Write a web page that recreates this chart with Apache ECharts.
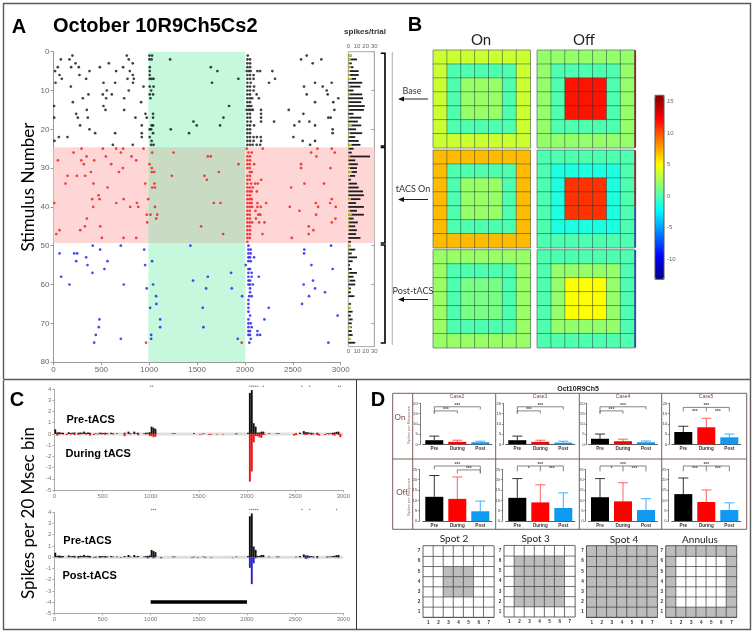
<!DOCTYPE html>
<html><head><meta charset="utf-8">
<style>html,body{margin:0;padding:0;background:#fff}#c{width:753px;height:634px;filter:blur(.4px)}</style>
<script src="https://cdn.jsdelivr.net/npm/echarts@6/dist/echarts.min.js"></script>
</head><body><div id="c"></div>
<script>
// ---------- Panel A data: spike times by trial ----------
const rasterBase = [
[198,766,1002,1030,2029,2645],[77,167,786,1002,1025,1218,2025,2053,2586,2798],[230,578,828,2025,2053,2707],
[45,184,264,484,727,1005,1643,2025,2053],[17,376,654,797,1005,1712,2018,2040,2060,2130,2158,2286],
[63,271,828,1005,2025,2053,2090],[87,341,773,839,1005,1025,1045,1931,2025,2053,2090,2314],
[21,522,644,830,1656,2025,2060,2252,2732,2906],[181,940,1005,1045,2025,2053,2095,2617,2812],
[557,786,1020,2025,2053,2090,2854],[365,515,609,1005,1040,2025,2053,2122,2645,2864],
[306,550,738,1012,2025,2053,2075,2145,2975],[202,915,2025,2053,2732,2923],[7,522,1834,2025,2045,2066],
[348,543,738,2018,2040,2060,2082,2168,2457,2934],[237,960,1040,2025,2053,2168,2610],
[7,254,358,856,974,1040,1775,2025,2053,2168,2871,2895],[1462,2025,2060,2168,2304,2568,2673],
[278,922,1025,1040,1496,1740,2025,2053,2095,2516,2732],[376,1005,1020,1225,2025,2053,2916],
[435,644,922,1040,1416,2025,2053,2916],[56,146,922,1005,2025,2053,2090,2125,2165,2506],
[10,1025,2025,2053,2090,2168,2603,2732],[620,828,1020,1045,2025,2053,2080,2122,2158,2680]];
const rasterTacs = [
[293,516,655,728,940,2019,2186,2757,2907],[210,704,1031,1254,2036,2071,2691,2938],[345,547,815,1612,1643,2025,2053,2746],
[46,290,425,864,2025,2053],[317,603,1003,1932,2025,2050,2096,2586],[725,1027,2025,2050,2586,2893],
[391,683,1027,1052,1727,2050,2071],[147,244,331,1236,1577,2025,2053],[1602,2025,2050,2169],
[126,418,958,1055,2025,2064,2106,2134,2621,2826],[565,1031,1059,2025,2050,2082,2482],[2025,2050,2070,2124],
[470,2025,2053],[404,481,732,989,2025,2050,2070,2907],[8,655,871,1675,1744,2025,2050,2070,2130,2221,2740,2889],
[415,801,885,1059,2025,2050,2075,2130,2165,2468,2764,2948],[2025,2050,2110,2569],[975,1013,1083,2025,2050,2140,2160,2743],
[349,1073,2025,2053,2115,2945],[979,2025,2050,2075,2148,2204,2907],[328,488,1542,2025,2053,2666],[63,279,2025,2053,2715],
[29,1772,2025,2053,2183,2666],[505,732,864,2025,2050,2489],[2025]];
const rasterPost = [
[410,703,1430,2036,2899],[487,947,2036,2060,2620],[63,216,247,2036,2060,2617],[341,2036,2053,2095],
[237,564,1030,2036,2060],[355,957,2008,2694],[532,2036,2053,2916],[407,1855,2036,2070],[80,1612,2036,2070,2144],
[1458,2036,2053,2711],[167,734,1040,2036,2053,2082,2613],[974,1594,1862,2053,2732],[2053,2836],
[1072,1970,2045,2070,2669],[2036],[1075,2036,2596],[1009,1559,2036,2248],[2036],[2053,2968],[480,1114,2036,2203],
[2036,2060],[473,1114,1566,2036,2070],[2036,2053,2130],[442,1020,2036,2053,2130,2158],[703,1020,1924,2060],[425,2045,2871]];
const rasterLateRed = [[967,75],[1966,75]];
const stimBand = [990,2000];
const tacsBand = [24.6,49.3];
// spikes per trial
const trialAxis = Array.from({length:77},(_, i)=>String(i));
const spikesPerTrial = [0,4,10,4,6,12,12,9,16,14,6,16,17,15,19,18,6,15,11,15,9,16,8,12,14,
6,4,25,8,11,10,10,8,3,10,12,17,18,14,9,18,10,18,6,11,8,10,9,14,3,
3,8,4,10,5,2,4,10,6,8,8,3,3,7,0,3,3,5,3,5,4,4,4,5,3,8];
const spikesYellow = [0,4.5,3,1.5,3,2,2,4,0,2,0,1.5,0,1,0,1,0,1.5,0,4,0,2,1,0,4,
1,0,2,0,1,2,4,2,0,1,0,0,0,3,0,0,2,4,1,1,1,1,0,0,0,
3,1,0,0,0,0,0,1,0,2,0,1,0,0,0,1,3,0,0,1,0,3,0,0,3,0];

// ---------- Panel B data ----------
const jetColors = ['#00007f','#0000ff','#007fff','#00ffff','#7fff7f','#ffff00','#ff7f00','#ff0000','#7f0000'];
const colorTicks = [-10,-5,0,5,10,15];
const onBase = [[3.6,3.6,3.6,3.6,3.6,3.6,3.6],[3.6,0,0,0,0,0,3.6],[3.6,0,2.1,2.1,2.1,0,3.6],[3.6,0,2.1,2.1,2.1,0,3.6],[3.6,0,2.1,2.1,2.1,0,3.6],[3.6,0,0,0,0,0,3.6],[3.6,3.6,3.6,3.6,3.6,3.6,3.6]];
const offBase = [[2,2,2,2,2,2,2],[2,0,0,0,0,0,2],[2,0,11.8,11.8,11.8,0,2],[2,0,11.8,11.8,11.8,0,2],[2,0,11.8,11.8,11.8,0,2],[2,0,0,0,0,0,2],[2,2,2,2,2,2,2]];
const onTacs = [[7,7,7,7,7,7,7],[7,0,0,0,0,0,7],[7,0,2.1,2.1,2.1,0,7],[7,0,2.1,2.1,2.1,0,7],[7,0,2.1,2.1,2.1,0,7],[7,0,0,0,0,0,7],[7,7,7,7,7,7,7]];
const offTacs = [[0,0,0,0,0,0,0],[0,-1.4,-1.4,-1.4,-1.4,-1.4,0],[0,-1.4,10.9,10.9,10.9,-1.4,0],[0,-1.4,10.9,10.9,10.9,-1.4,0],[0,-1.4,10.9,10.9,10.9,-1.4,0],[0,-1.4,-1.4,-1.4,-1.4,-1.4,0],[0,0,0,0,0,0,0]];
const onPost = [[2.1,2.1,2.1,2.1,2.1,2.1,2.1],[2.1,0,0,0,0,0,2.1],[2.1,0,1.2,1.2,1.2,0,2.1],[2.1,0,1.2,1.2,1.2,0,2.1],[2.1,0,1.2,1.2,1.2,0,2.1],[2.1,0,0,0,0,0,2.1],[2.1,2.1,2.1,2.1,2.1,2.1,2.1]];
const offPost = [[0,0,0,0,0,0,0],[0,2,2,2,2,2,0],[0,2,5,5,5,2,0],[0,2,5,5,5,2,0],[0,2,5,5,5,2,0],[0,2,2,2,2,2,0],[0,0,0,0,0,0,0]];

// ---------- Panel C data ----------
const preBins = [[10,.4],[30,.12],[50,.15],[70,.1],[90,.1],[150,.15],[170,.08],[190,.1],[210,.12],[250,.1],[270,.12],[290,.1],[310,.2],[330,.08],[350,.12],[370,.1],[430,.05],[470,.1],[490,.1],[510,.08],[530,.1],[550,.06],[590,.1],[610,.05],[650,.05],[730,.1],[770,.2],[790,.05],[830,.2],[850,.05],[870,.1],[930,.05],[950,.1],[970,.1],[990,.15],[1010,.65],[1030,.55],[1050,.45],[1230,.05],[1250,.05],[1450,.05],[1550,.05],[1890,.05],[2010,.1],[2030,3.65],[2050,3.9],[2070,.95],[2090,.65],[2110,.12],[2130,.12],[2150,.2],[2170,.2],[2230,.05],[2310,.05],[2330,.05],[2510,.05],[2550,.1],[2590,.25],[2610,.15],[2630,.15],[2650,.1],[2670,.1],[2690,.05],[2730,.1],[2830,.05],[2850,.05],[2870,.05],[2890,.1],[2910,.12],[2930,.18],[2950,.2]];
const duringBins = [[30,-.15],[50,-.05],[90,-.05],[130,-.1],[170,-.05],[210,-.1],[250,-.08],[270,-.05],[330,-.05],[370,-.15],[410,-.1],[450,-.05],[490,-.05],[530,-.08],[610,-.05],[730,-.2],[790,-.05],[870,-.12],[950,-.05],[990,-.2],[1010,-.2],[1030,-.3],[1050,-.25],[1510,-.05],[1530,-.05],[1610,-.1],[1630,-.05],[1690,-.05],[1750,-.05],[1890,-.05],[2030,-4.25],[2050,-3.35],[2070,-.75],[2090,-.2],[2110,-.2],[2130,-.3],[2150,-.35],[2170,-.1],[2190,-.05],[2490,-.15],[2510,-.1],[2590,-.05],[2610,-.1],[2630,-.05],[2670,-.1],[2690,-.05],[2730,-.1],[2750,-.15],[2810,-.1],[2850,-.05],[2890,-.1],[2910,-.15],[2950,-.1],[2970,-.3]];
const postBins = [[50,-.05],[70,-.05],[210,-.05],[250,-.1],[370,-.05],[410,-.05],[430,-.05],[470,-.05],[490,-.03],[530,-.05],[690,-.05],[970,-.1],[1030,-.1],[1110,-.1],[1430,-.05],[1490,-.05],[1570,-.05],[1630,-.05],[1850,-.03],[2030,-.95],[2050,-2.4],[2070,-.55],[2090,-.1],[2610,-.15],[2630,-.1],[2650,-.05],[2690,-.05],[2730,-.1],[2830,-.03],[2950,-.05]];
const zeroLine = [[0,0],[3000,0]];
const sigTop = [1000,1020,2030,2050,2070,2090,2110,2170,2570,2650,2950,2970];
const sigBottom = [1010,1030,1050,2030,2050,2070,2090,2110,2570,2650,2930];
const stimBar = [[1000,-4],[2000,-4]];

// ---------- Panel D data ----------
const conditions = ['Pre','During','Post'];
const caseNames = ['Case2','Case3','Case4','Case5'];
const barColors = ['#000000','#ff0000','#0f99f0'];
const errColors = ['#333333','#ff6060','#3fb0ff'];
const onMeans = [[2,1.2,1],[2,1.2,.8],[2.7,1.5,1],[6,8.3,3.4]];
const onTops = [[4,2,1.5],[4,2,1.5],[5,2.5,1.6],[8.8,12.7,5]];
const offMeans = [[11.7,10.7,4.7],[11.2,9,6.3],[11.5,9.5,5.3],[13,9.2,5.3]];
const offTops = [[22,21.3,9.6],[20.5,17.5,13.6],[20.5,18.5,10.8],[20.8,15,8.8]];
// from, to, level, left foot, right foot, middle foot
const onBrackets = [
 [[0,2,18.3,15,17,null],[0,1,16.3,15,15,null]],[[0,2,18.3,15,17,null],[0,1,16.3,15,15,null]],[[0,2,18.3,15,17,null],[0,1,16.3,15,15,null]],
 [[0,2,18,16,16,16]]];
const onStars = [
 [[1,18.8,'***'],[.5,16.8,'***']],[[1,18.8,'***'],[.5,16.8,'***']],[[1,18.8,'***'],[.5,16.8,'***']],
 [[1,18.8,'***'],[.5,16,'***'],[1.5,16,'***']]];
const offBrackets = [
 [[0,2,26.6,25,23,null],[1,2,24.7,23,23,null]],[[0,2,26.6,24,24,24]],[[0,2,26.6,24,24,24]],[[0,2,26.6,24,24,24]]];
const offStars = [
 [[1,27.2,'***'],[1.5,25.2,'***']],[[1,27.2,'***'],[.5,25.2,'*'],[1.5,25.2,'***']],[[1,27.2,'***'],[.5,25.2,'*'],[1.5,25.2,'***']],[[1,27.2,'***'],[.5,25.2,'***'],[1.5,25.2,'***']]];
const spotLabels = ['1','2','3','4','5','6','7'];
const spot2 = [[0,0,0,0,0,0,0],[0,0,0,0,0,0,0],[0,0,1,1,1,0,0],[0,0,1,1,1,0,0],[0,0,1,1,1,0,0],[0,0,0,0,0,0,0],[0,0,0,0,0,0,0]];
const spot3 = [[0,0,0,0,0,0,0],[0,1,1,1,1,1,0],[0,1,1,1,1,1,0],[0,1,1,1,1,1,0],[0,1,1,1,1,1,0],[0,1,1,1,1,1,0],[0,0,0,0,0,0,0]];
const spot4 = [[1,1,1,1,1,1,1],[1,1,1,1,1,1,1],[1,1,1,1,1,1,1],[1,1,1,1,1,1,1],[1,1,1,1,1,1,1],[1,1,1,1,1,1,1],[1,1,1,1,1,1,1]];
const annulus = [[1,1,1,1,1,1,1],[1,0,0,0,0,0,1],[1,0,0,0,0,0,1],[1,0,0,0,0,0,1],[1,0,0,0,0,0,1],[1,0,0,0,0,0,1],[1,1,1,1,1,1,1]];

// ---------- assembly ----------
const grids=[],xAxes=[],yAxes=[],series=[],jetIdx=[],spotIdx=[];
const SANS='"Liberation Sans",Arial,sans-serif', LATO='Lato,"Noto Sans",sans-serif';
const plain=(v)=>String(v);
function addGrid(g,x,y){const i=grids.length;grids.push(g);x.gridIndex=i;y.gridIndex=i;xAxes.push(x);yAxes.push(y);return i;}
const hidden=(o)=>Object.assign({show:false},o);
const lbl=(size,color,extra)=>Object.assign({fontSize:size,color:color||'#666',fontFamily:SANS},extra||{});
const line=(c,w)=>({lineStyle:{color:c||'#999',width:w||1}});
const flat=(m)=>{const r=[];m.forEach((row,j)=>row.forEach((v,i)=>r.push([i,j,v])));return r;};

// shaded bands of panel A, spanning raster and spike histogram
const bandG=addGrid({left:53.5,top:51.7,width:320.8,height:310.4},
  hidden({type:'value',min:0,max:3347}),hidden({type:'value',min:0,max:80,inverse:true}));
series.push({type:'scatter',xAxisIndex:bandG,yAxisIndex:bandG,data:[],z:0,silent:true,markArea:{silent:true,data:[
 [{xAxis:stimBand[0],yAxis:0,itemStyle:{color:'#c5f8dc'}},{xAxis:stimBand[1],yAxis:80}],
 [{xAxis:0,yAxis:tacsBand[0],itemStyle:{color:'#ffd6d6'}},{xAxis:stimBand[0],yAxis:tacsBand[1]}],
 [{xAxis:stimBand[0],yAxis:tacsBand[0],itemStyle:{color:'#c9dcc3'}},{xAxis:stimBand[1],yAxis:tacsBand[1]}],
 [{xAxis:stimBand[1],yAxis:tacsBand[0],itemStyle:{color:'#ffd6d6'}},{xAxis:3347,yAxis:tacsBand[1]}]
]}});

// raster
const rA=addGrid({left:53.5,top:51.7,width:287.2,height:310.4},
 {type:'value',min:0,max:3000,interval:500,axisLine:Object.assign({onZero:false},line('#999')),axisTick:Object.assign({length:3},line('#999')),axisLabel:lbl(8,'#666',{margin:4,formatter:plain}),splitLine:{show:false}},
 {type:'value',min:0,max:80,interval:10,inverse:true,axisLine:Object.assign({onZero:false},line('#999')),axisTick:Object.assign({length:3},line('#999')),axisLabel:lbl(8,'#666',{margin:4}),splitLine:{show:false}});
const pts=(rows,start)=>{const r=[];rows.forEach((ts,k)=>ts.forEach(t=>r.push([t,start+k])));return r;};
[[rasterBase,1,'#111'],[rasterTacs,25,'#f01818'],[rasterPost,50,'#1a1aee']].forEach(([rows,s,c])=>{
 series.push({type:'scatter',xAxisIndex:rA,yAxisIndex:rA,data:pts(rows,s),symbol:'circle',symbolSize:2.7,itemStyle:{color:c},silent:true,z:3});
});
series.push({type:'scatter',xAxisIndex:rA,yAxisIndex:rA,data:rasterLateRed,symbolSize:2.7,itemStyle:{color:'#f01818'},silent:true,z:3});

// spikes per trial: top and bottom scales share one grid
const histX=(pos)=>({type:'value',position:pos,min:0,max:30,interval:10,axisLine:Object.assign({onZero:false},line('#999')),axisTick:Object.assign({length:2},line('#999')),axisLabel:lbl(6,'#666',{margin:2}),splitLine:{show:false}});
const hG=addGrid({left:348.3,top:51.7,width:26,height:294.9,show:true,borderColor:'#aaa',borderWidth:1,backgroundColor:'transparent'},
 histX('top'),
 {type:'category',data:trialAxis,boundaryGap:false,inverse:true,position:'right',axisLine:Object.assign({onZero:false},line('#aaa')),axisTick:Object.assign({inside:true,length:3,interval:(i)=>i%10===0},line('#aaa')),axisLabel:{show:false}});
series.push({type:'bar',xAxisIndex:hG,yAxisIndex:hG,data:spikesPerTrial,barWidth:1.8,barGap:'-100%',itemStyle:{color:'#1c1c1c'},silent:true,z:3});
series.push({type:'bar',xAxisIndex:hG,yAxisIndex:hG,data:spikesYellow,barWidth:1.8,barGap:'-100%',itemStyle:{color:'#c8c814'},silent:true,z:4});

// heat maps
const cols=[[433.3,97],[537.3,97.2]], rows=[[50.3,97.4],[150.3,97.4],[250,97.7]];
[[onBase,offBase],[onTacs,offTacs],[onPost,offPost]].forEach((pair,r)=>pair.forEach((m,c)=>{
 const g=addGrid({left:cols[c][0],top:rows[r][0],width:cols[c][1],height:rows[r][1],show:true,borderColor:'#bbb',borderWidth:1},
  hidden({type:'category',data:spotLabels}),hidden({type:'category',data:spotLabels,inverse:true}));
 jetIdx.push(series.length);
 series.push({type:'heatmap',xAxisIndex:g,yAxisIndex:g,data:flat(m),itemStyle:{borderColor:'rgba(30,60,60,.45)',borderWidth:1},silent:true,progressive:0});
}));
// colour bar scale
const cb=addGrid({left:655,top:95.3,width:9,height:184,show:true,borderColor:'#555',borderWidth:1,backgroundColor:'transparent',z:10},
 hidden({type:'value',min:0,max:1}),
 {type:'value',position:'right',min:-13.2,max:16,axisLine:{show:false},splitLine:{show:false},
  axisTick:{show:true,length:2,inside:false,customValues:colorTicks,lineStyle:{color:'#777'}},
  axisLabel:lbl(6,'#666',{margin:3,customValues:colorTicks})});

// panel C
function psth(top,down,downColor,sig){
 const g=addGrid({left:54.3,top:top,width:289,height:101},
  {type:'value',min:0,max:3000,interval:500,axisLine:Object.assign({onZero:false},line('#aaa')),axisTick:Object.assign({length:2},line('#aaa')),axisLabel:lbl(6,'#777',{margin:3,formatter:plain}),splitLine:{show:false}},
  {type:'value',min:-5,max:4,interval:1,axisLine:Object.assign({onZero:false},line('#aaa')),axisTick:Object.assign({length:2},line('#aaa')),axisLabel:lbl(6,'#777',{margin:3}),splitLine:{show:false}});
 series.push({type:'line',xAxisIndex:g,yAxisIndex:g,data:zeroLine,symbol:'none',lineStyle:{color:'#dedede',width:3},silent:true,z:1});
 series.push({type:'bar',xAxisIndex:g,yAxisIndex:g,data:preBins,barWidth:1.9,barGap:'-100%',itemStyle:{color:'#111'},silent:true,z:3});
 series.push({type:'bar',xAxisIndex:g,yAxisIndex:g,data:down,barWidth:1.9,barGap:'-100%',itemStyle:{color:downColor},silent:true,z:3});
 series.push({type:'scatter',xAxisIndex:g,yAxisIndex:g,data:sig.map(t=>[t,4.25]),symbolSize:1.6,itemStyle:{color:'#666'},clip:false,silent:true,z:3});
 return g;
}
psth(389,duringBins,'#ee1111',sigTop);
const c2=psth(512.3,postBins,'#2222cc',sigBottom);
series.push({type:'line',xAxisIndex:c2,yAxisIndex:c2,data:stimBar,symbol:'none',lineStyle:{color:'#000',width:3.5,cap:'butt'},silent:true,z:4});

// panel D
const px=(api,f)=>{const i=Math.min(Math.floor(f),1);const a=api.coord([i,0])[0],b=api.coord([i+1,0])[0];return a+(b-a)*(f-i);};
function caseGrid(left,off,top,h,max,means,tops,brs,stars){
 const g=addGrid({left:left,top:top,width:69,height:h},
  {type:'category',data:conditions,axisLine:Object.assign({onZero:false},line('#333',.8)),axisTick:Object.assign({length:1.5,alignWithLabel:true},line('#333',.6)),axisLabel:lbl(4.6,'#333',{margin:2,fontWeight:'bold',interval:0})},
  {type:'value',min:0,max:max,interval:5,offset:off,axisLine:Object.assign({onZero:false,show:true},line('#444',.7)),axisTick:Object.assign({show:true,length:1.5},line('#444',.6)),axisLabel:lbl(4.4,'#444',{margin:2}),splitLine:{show:false}});
 series.push({type:'bar',xAxisIndex:g,yAxisIndex:g,data:means.map((v,i)=>({value:v,itemStyle:{color:barColors[i]}})),barWidth:18,silent:true,z:3});
 series.push({type:'custom',xAxisIndex:g,yAxisIndex:g,data:means.map((v,i)=>[i,v,tops[i]]),silent:true,z:2,
  renderItem:(p,api)=>{const i=api.value(0);const a=api.coord([i,api.value(1)]),b=api.coord([i,api.value(2)]);
   const st={stroke:errColors[i],lineWidth:1};
   return {type:'group',children:[{type:'line',shape:{x1:a[0],y1:a[1],x2:b[0],y2:b[1]},style:st},{type:'line',shape:{x1:b[0]-5,y1:b[1],x2:b[0]+5,y2:b[1]},style:st}]};}});
 series.push({type:'custom',xAxisIndex:g,yAxisIndex:g,data:brs.map(r=>[r[0],r[2]]),silent:true,z:4,
  renderItem:(p,api)=>{const r=brs[p.dataIndex];const X=(f)=>px(api,f),Y=(v)=>api.coord([0,v])[1];
   const ch=[{type:'polyline',shape:{points:[[X(r[0]),Y(r[3])],[X(r[0]),Y(r[2])],[X(r[1]),Y(r[2])],[X(r[1]),Y(r[4])]]},style:{stroke:'#666',lineWidth:.8,fill:null}}];
   if(r[5]!==null)ch.push({type:'line',shape:{x1:X((r[0]+r[1])/2),y1:Y(r[2]),x2:X((r[0]+r[1])/2),y2:Y(r[5])},style:{stroke:'#666',lineWidth:.8}});
   return {type:'group',children:ch};}});
 series.push({type:'custom',xAxisIndex:g,yAxisIndex:g,data:stars.map((s,i)=>[i,s[1]]),silent:true,z:4,
  renderItem:(p,api)=>{const s=stars[p.dataIndex];return {type:'text',style:{text:s[2],x:px(api,s[0]),y:api.coord([0,s[1]])[1],align:'center',verticalAlign:'middle',font:'bold 5px '+SANS,fill:'#555'}};}});
}
const dLeft=[422.8,505.8,588.5,671.8], dOn=[2.8,2.5,1.8,2.5], dOff=[3.5,3.5,2.8,3.1];
caseNames.forEach((n,i)=>{
 caseGrid(dLeft[i],dOn[i],403.3,41,20,onMeans[i],onTops[i],onBrackets[i],onStars[i]);
 caseGrid(dLeft[i],dOff[i],469.3,51.7,25,offMeans[i],offTops[i],offBrackets[i],offStars[i]);
});
// stimulus maps
[[spot2,423.3,546],[spot3,504.3,545.7],[spot4,586.7,546],[annulus,666,546]].forEach(([m,l,t])=>{
 const ax=()=>({type:'category',data:spotLabels,axisLine:{show:true,onZero:false,lineStyle:{color:'#444',width:1}},axisTick:{show:false},axisLabel:lbl(4.6,'#333',{margin:3,fontWeight:'bold',interval:0})});
 const g=addGrid({left:l,top:t,width:70.5,height:71,show:true,borderColor:'#777',borderWidth:1},ax(),ax());
 spotIdx.push(series.length);
 series.push({type:'heatmap',xAxisIndex:g,yAxisIndex:g,data:flat(m),itemStyle:{borderColor:'#444',borderWidth:.7},silent:true,progressive:0});
});
// bottom scale of the spikes-per-trial plot (no series of its own)
xAxes.push(Object.assign(histX('bottom'),{gridIndex:hG}));

// ---------- annotations ----------
const T=(s,x,y,size,o)=>{o=o||{};return {type:'text',z:50,silent:true,x:x,y:y,rotation:o.rot||0,style:{text:s,x:0,y:0,align:o.align||'center',verticalAlign:'middle',font:(o.bold?'bold ':'')+size+'px '+(o.fam||SANS),fill:o.fill||'#000'}};};
const L=(x1,y1,x2,y2,c,w)=>({type:'line',z:50,silent:true,shape:{x1,y1,x2,y2},style:{stroke:c||'#000',lineWidth:w||1}});
const P=(pts,c,w)=>({type:'polyline',z:50,silent:true,shape:{points:pts},style:{stroke:c||'#000',lineWidth:w||1,fill:null}});
const R=(x,y,w,h,c)=>({type:'rect',z:50,silent:true,shape:{x,y,width:w,height:h},style:{fill:c}});
const ARW=(x1,x2,y)=>[L(x1,y,x2+4,y,'#222',1),{type:'polygon',z:50,silent:true,shape:{points:[[x2,y],[x2+6,y-2.4],[x2+6,y+2.4]]},style:{fill:'#111'}}];
const frame='#5a5a5a', brown='#7d5a5a';
const gfx=[
 P([[3.5,379],[3.5,3.5],[750.5,3.5],[750.5,629.5],[3.5,629.5],[3.5,380]],frame,1.4),
 L(3.5,379.5,750.5,379.5,frame,1.4), L(356.5,380,356.5,629.5,'#333',1),
 T('A',19,27,20,{bold:true}), T('October 10R9Ch5Cs2',53,26,20,{bold:true,align:'left'}),
 T('spikes/trial',365,32,8,{bold:true,fill:'#333'}),
 T('Stimulus Number',29,187,17,{rot:Math.PI/2,fam:LATO}),
 T('B',415,25,20,{bold:true}), T('On',481,40,15,{fam:LATO,fill:'#222'}), T('Off',584,40,15,{fam:LATO,fill:'#222'}),
 P([[380.7,53.3],[385,53.3],[385,146],[380.7,146]],'#000',1.6),
 P([[380.7,147.5],[385,147.5],[385,243],[380.7,243]],'#000',1.6),
 P([[380.7,245],[385,245],[385,343],[380.7,343]],'#000',1.6),
 L(392.3,52,392.3,345,'#b8bcbc',1.2),
 T('Base',412,91,9,{fam:LATO,fill:'#333'}),T('tACS On',413,189,9,{fam:LATO,fill:'#333'}),T('Post-tACS',413,291,9,{fam:LATO,fill:'#333'}),
 ...ARW(428,398,99),...ARW(428,398,199.5),...ARW(428,398,299.5),
 R(634.3,50.3,1.8,97.4,'#8b2c2c'),R(634.3,150.3,1.8,56,'#8b2c2c'),R(634.3,206.3,1.8,41.4,'#2a4db5'),R(634.3,250,1.8,97.7,'#2a4db5'),
 T('C',17,400,20,{bold:true}), T('Spikes per 20 Msec bin',29,513,17,{rot:Math.PI/2,fam:LATO}),
 T('Pre-tACS',66.5,419.5,11,{bold:true,align:'left'}), T('During tACS',65.5,454,11,{bold:true,align:'left'}),
 T('Pre-tACS',63.3,541,11,{bold:true,align:'left'}), T('Post-tACS',62.5,575.7,11,{bold:true,align:'left'}),
 T('D',378,400,20,{bold:true}), T('Oct10R9Ch5',578,389,7,{bold:true,fill:'#222'}),
 P([[392.7,393.3],[746.7,393.3],[746.7,529.3],[392.7,529.3],[392.7,393.3]],brown,1),
 L(392.7,459,746.7,459,brown,1),...[412.7,495.7,579.3,661.7].map(x=>L(x,393.3,x,529.3,brown,1)),
 T('On',400,417,8,{fill:'#7b4545',fam:LATO}),T('Off',402,492,8,{fill:'#7b4545',fam:LATO}),
 T('Spikes per Response',409,425,4,{rot:Math.PI/2,fill:'#8a6a6a'}),T('Spikes per Response',409,497,4,{rot:Math.PI/2,fill:'#8a6a6a'}),
 ...[457,540,623,706].map((x,i)=>T(caseNames[i],x,397,5,{fill:'#7b4545'})),
 T('Spot 2',454,539,10,{fam:LATO,fill:'#222'}),T('Spot 3',535.7,539,10,{fam:LATO,fill:'#222'}),T('Spot 4',624,539.5,10,{fam:LATO,fill:'#222'}),T('Annulus',700,539.5,10,{fam:LATO,fill:'#222'})
];

const chart=echarts.init(document.getElementById('c'),null,{renderer:'canvas'});
chart.setOption({
 animation:false,backgroundColor:'#fff',tooltip:{show:false},
 grid:grids,xAxis:xAxes,yAxis:yAxes,series:series,graphic:{elements:gfx},
 visualMap:[
  {type:'continuous',seriesIndex:jetIdx,min:-13.2,max:16,inRange:{color:jetColors},left:655,top:95.3,itemWidth:9,itemHeight:184,padding:0,text:null,calculable:false,hoverLink:false},
  {type:'continuous',seriesIndex:spotIdx,min:0,max:1,inRange:{color:['#ffffff','#bdbdbd']},show:false}
 ]
});
</script></body></html>
